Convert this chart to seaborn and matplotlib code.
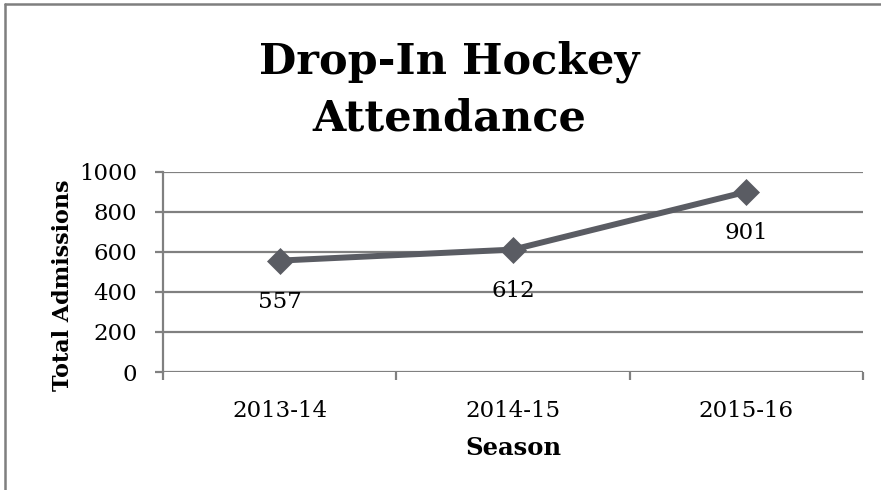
import pandas as pd
import matplotlib.pyplot as plt
import seaborn as sns
from matplotlib.lines import Line2D

# Data
seasons = ["2013-14", "2014-15", "2015-16"]
admissions = [557, 612, 901]
yticks = [0, 200, 400, 600, 800, 1000]

df = pd.DataFrame({"season": seasons, "admissions": admissions})
df["pos"] = range(len(df))

sns.set_style("white")
plt.rcParams["font.family"] = ["DejaVu Serif"]
plt.rcParams["text.color"] = "black"
plt.rcParams["axes.labelcolor"] = "black"
plt.rcParams["xtick.labelcolor"] = "black"
plt.rcParams["ytick.labelcolor"] = "black"

line_col = "#5a5c63"
grid_col = "#808080"
fs = 16.5

fig = plt.figure(figsize=(8.81, 4.90), dpi=100)
ax = fig.add_axes([163 / 881, 1 - 372 / 490, 700 / 881, 200 / 490])

sns.lineplot(
    data=df, x="pos", y="admissions", ax=ax,
    color=line_col, linewidth=4.3, marker="D", markersize=13,
    markeredgecolor=line_col, markeredgewidth=0.5, zorder=5
)

# Data labels below each point
for i, v in enumerate(admissions):
    ax.annotate(str(v), (i, v), xytext=(0, -30), textcoords="offset points",
                ha="center", va="center", fontsize=fs, color="black")

ax.set_xlim(-0.5, len(seasons) - 0.5)
ax.set_ylim(0, 1000)
ax.set_yticks(yticks)
ax.set_yticklabels([str(t) for t in yticks], fontsize=fs)
ax.set_xticks(range(len(seasons)))
ax.set_xticklabels(seasons, fontsize=fs)
ax.set_xticks([-0.5, 0.5, 1.5, 2.5], minor=True)

ax.grid(axis="y", color=grid_col, linewidth=1.6)
ax.set_axisbelow(True)
for s in ["top", "right", "bottom"]:
    ax.spines[s].set_visible(False)
ax.spines["left"].set_color(grid_col)
ax.spines["left"].set_linewidth(1.6)

ax.tick_params(axis="y", which="major", direction="out", length=5.8,
               width=1.6, color=grid_col, pad=13, left=True)
ax.tick_params(axis="x", which="major", length=0, pad=20)
ax.tick_params(axis="x", which="minor", direction="out", length=5.8,
               width=1.6, color=grid_col, bottom=True)

ax.set_xlabel("Season", fontsize=17.5, fontweight="bold")
ax.xaxis.set_label_coords(0.5, (372 - 436) / 200)
ax.set_ylabel("Total Admissions", fontsize=16, fontweight="bold")
ax.yaxis.set_label_coords((74 - 163) / 700, (372 - 285) / 200)

fig.text(449 / 881, 1 - 90 / 490, "Drop-In Hockey\nAttendance",
         ha="center", va="center", fontsize=31, fontweight="bold",
         linespacing=1.45)

# Chart frame (top and left edges visible)
fig.add_artist(Line2D([5 / 881, 1], [1 - 4 / 490, 1 - 4 / 490],
                      transform=fig.transFigure, color="#7f7f7f", linewidth=1.8))
fig.add_artist(Line2D([5 / 881, 5 / 881], [0, 1 - 4 / 490],
                      transform=fig.transFigure, color="#7f7f7f", linewidth=1.8))

fig.savefig("out.png", dpi=100)
